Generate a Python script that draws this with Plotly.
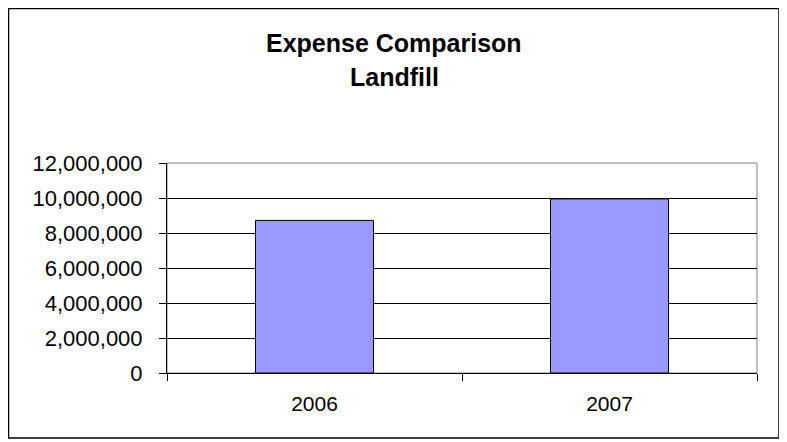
import plotly.graph_objects as go

categories = ["2006", "2007"]
expenses = [8720000, 9950000]
y_ticks = [0, 2000000, 4000000, 6000000, 8000000, 10000000, 12000000]
title_lines = ["Expense Comparison", "Landfill"]

OFF = 8  # page body margin offset
W, H = 787 - OFF, 442 - OFF
L, R, T, B = 167 - OFF, 30, 163 - OFF, 69
pw = W - L - R
ph = H - T - B

def px_x(x):
    return (x - OFF - L) / pw

def px_y(y):
    return (H - B - (y - OFF)) / ph

FONT = "Arial, Liberation Sans, sans-serif"

fig = go.Figure()
fig.add_trace(go.Bar(
    x=categories, y=expenses,
    marker=dict(color="#9999FF", line=dict(color="#000000", width=1)),
    width=0.4,
))

fig.update_layout(
    width=W, height=H,
    margin=dict(l=L, r=R, t=T, b=B, pad=0),
    paper_bgcolor="white", plot_bgcolor="white",
    showlegend=False,
    font=dict(family=FONT, size=21, color="black"),
    xaxis=dict(
        type="category",
        showline=True, linecolor="black", linewidth=1,
        ticks="outside", ticklen=7, tickcolor="black",
        tickson="boundaries",
        showgrid=False,
        tickfont=dict(size=21),
        ticklabelstandoff=12,
    ),
    yaxis=dict(
        range=[0, 12000000],
        tickvals=y_ticks,
        tickformat=",d",
        showline=True, linecolor="black", linewidth=1,
        ticks="outside", ticklen=7, tickcolor="black",
        showgrid=True, gridcolor="black", gridwidth=1,
        zeroline=False,
        tickfont=dict(size=22),
        ticklabelstandoff=12,
    ),
    shapes=[
        dict(type="rect", xref="paper", yref="paper",
             x0=0, x1=1, y0=0, y1=1,
             line=dict(color="#808080", width=1), layer="below"),
        dict(type="rect", xref="paper", yref="paper",
             x0=px_x(8.5), x1=px_x(779), y0=px_y(8.5), y1=px_y(438),
             line=dict(color="#000000", width=1.5)),
    ],
    annotations=[
        dict(text="<b>%s</b>" % title_lines[0], xref="paper", yref="paper",
             x=px_x(394), y=px_y(43), showarrow=False,
             font=dict(family=FONT, size=25), xanchor="center", yanchor="middle"),
        dict(text="<b>%s</b>" % title_lines[1], xref="paper", yref="paper",
             x=px_x(394), y=px_y(77), showarrow=False,
             font=dict(family=FONT, size=25), xanchor="center", yanchor="middle"),
    ],
)

fig.write_html("out.html")
